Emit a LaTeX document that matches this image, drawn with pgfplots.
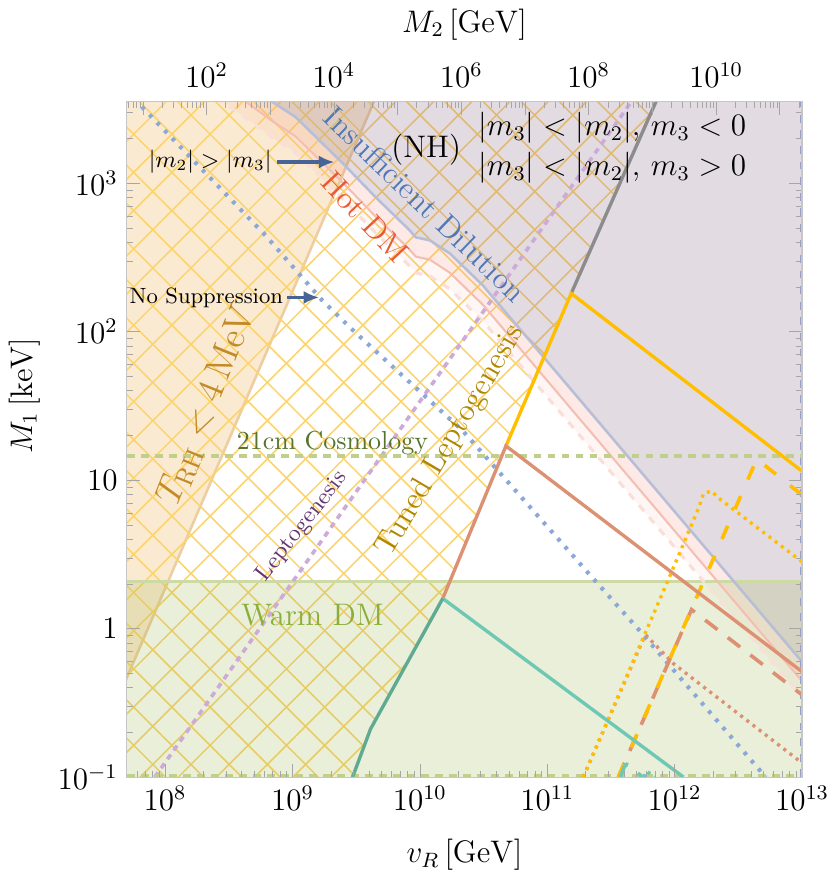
\documentclass[border=0pt]{standalone}
\usepackage{pgfplots}
\pgfplotsset{compat=1.18}
\usetikzlibrary{patterns.meta,arrows.meta}

\definecolor{orgfill}{RGB}{242,185,105}
\definecolor{orgline}{RGB}{238,205,160}
\definecolor{idfill}{RGB}{140,110,140}
\definecolor{idline}{RGB}{185,190,215}
\definecolor{hotfill}{RGB}{240,130,110}
\definecolor{hotline}{RGB}{245,190,178}
\definecolor{hotdash}{RGB}{250,222,216}
\definecolor{wdmfill}{RGB}{150,175,70}
\definecolor{wdmline}{RGB}{205,218,165}
\definecolor{cmline}{RGB}{192,208,140}
\definecolor{hatchcol}{RGB}{251,212,110}
\definecolor{ylw}{RGB}{255,190,0}
\definecolor{salmon}{RGB}{220,145,115}
\definecolor{tealA}{RGB}{95,170,145}
\definecolor{tealB}{RGB}{110,200,180}
\definecolor{nosup}{RGB}{140,168,215}
\definecolor{lepto}{RGB}{205,170,215}
\definecolor{edgeblue}{RGB}{150,160,200}
\definecolor{txtid}{RGB}{80,120,180}
\definecolor{txthot}{RGB}{232,90,50}
\definecolor{txttrh}{RGB}{195,138,40}
\definecolor{txtcm}{RGB}{85,115,45}
\definecolor{txtlep}{RGB}{100,55,110}
\definecolor{txttuned}{RGB}{175,135,0}
\definecolor{txtwdm}{RGB}{140,175,60}
\definecolor{arrcol}{RGB}{70,100,150}

\begin{document}
\begin{tikzpicture}
\begin{axis}[
  scale only axis,
  width=260pt, height=260pt,
  xmin=7.70, xmax=13, ymin=-1, ymax=3.547,
  axis on top,
  xtick={8,9,10,11,12,13},
  xticklabels={$10^{8}$,$10^{9}$,$10^{10}$,$10^{11}$,$10^{12}$,$10^{13}$},
  ytick={-1,0,1,2,3},
  yticklabels={$10^{-1}$,$1$,$10$,$10^{2}$,$10^{3}$},
  minor xtick={7.778,7.845,7.903,7.954,
    8.301,8.477,8.602,8.699,8.778,8.845,8.903,8.954,
    9.301,9.477,9.602,9.699,9.778,9.845,9.903,9.954,
    10.301,10.477,10.602,10.699,10.778,10.845,10.903,10.954,
    11.301,11.477,11.602,11.699,11.778,11.845,11.903,11.954,
    12.301,12.477,12.602,12.699,12.778,12.845,12.903,12.954},
  minor ytick={-0.699,-0.523,-0.398,-0.301,-0.222,-0.155,-0.097,-0.046,
    0.301,0.477,0.602,0.699,0.778,0.845,0.903,0.954,
    1.301,1.477,1.602,1.699,1.778,1.845,1.903,1.954,
    2.301,2.477,2.602,2.699,2.778,2.845,2.903,2.954,
    3.301,3.477},
  xtick pos=left, ytick pos=both,
  tick align=inside,
  major tick length=5pt, minor tick length=2.5pt,
  tick style={gray!70},
  axis line style={gray!45},
  tick label style={font=\large},
  label style={font=\large},
  xlabel={$v_R\,[\mathrm{GeV}]$},
  ylabel={$M_1\,[\mathrm{keV}]$},
  xlabel style={yshift=-4pt},
  every axis y label/.append style={at={(ticklabel cs:0.565)}},
]

% T_RH < 4 MeV region
\addplot[draw=none, fill=orgfill, fill opacity=0.3]
  coordinates {(7.6,-0.53) (9.66,3.59) (7.6,3.59)} -- cycle;
\addplot[orgline, line width=1pt] coordinates {(7.6,-0.53) (9.66,3.59)};

% tuned leptogenesis hatch
\addplot[draw=none, pattern={Lines[angle=45,distance=10.4pt,line width=0.6pt]},
  pattern color=hatchcol]
  coordinates {(7.6,-1.1) (7.6,3.6) (11.88,3.6) (11.188,2.257) (10.676,1.230)
  (10.180,0.203) (9.613,-0.676) (9.472,-1) (9.43,-1.1)} -- cycle;
\addplot[draw=none, pattern={Lines[angle=-45,distance=10.4pt,line width=0.6pt]},
  pattern color=hatchcol]
  coordinates {(7.6,-1.1) (7.6,3.6) (11.88,3.6) (11.188,2.257) (10.676,1.230)
  (10.180,0.203) (9.613,-0.676) (9.472,-1) (9.43,-1.1)} -- cycle;

% insufficient dilution region
\addplot[draw=none, fill=idfill, fill opacity=0.25]
  coordinates {(8.3,3.87) (8.60,3.70) (8.842,3.547) (9.023,3.446) (9.393,3.135)
  (9.653,2.905) (9.920,2.682) (9.968,2.635) (10.078,2.615) (10.235,2.527)
  (10.495,2.311) (11.228,1.569) (12.44,0.343) (13.0,-0.223) (13.1,-0.32)
  (13.1,3.9) (8.3,3.9)} -- cycle;

% hot DM band (outer and inner)
\addplot[draw=none, fill=hotfill, fill opacity=0.07]
  coordinates {(8.3,3.87) (8.60,3.70) (8.842,3.547) (9.023,3.446) (9.393,3.135)
  (9.653,2.905) (9.920,2.682) (9.968,2.635) (10.078,2.615) (10.235,2.527)
  (10.495,2.311) (11.228,1.569) (12.44,0.343) (13.0,-0.223) (13.1,-0.32)
  (13.1,-0.56) (13.0,-0.463) (12.44,0.103) (11.228,1.329) (10.495,2.071)
  (10.235,2.287) (10.078,2.375) (9.968,2.395) (9.920,2.442) (9.653,2.665)
  (9.393,2.895) (9.023,3.206) (8.842,3.307) (8.60,3.46) (8.3,3.63)} -- cycle;
\addplot[draw=none, fill=hotfill, fill opacity=0.10]
  coordinates {(8.3,3.87) (8.60,3.70) (8.842,3.547) (9.023,3.446) (9.393,3.135)
  (9.653,2.905) (9.920,2.682) (9.968,2.635) (10.078,2.615) (10.235,2.527)
  (10.495,2.311) (11.228,1.569) (12.44,0.343) (13.0,-0.223) (13.1,-0.32)
  (13.1,-0.45) (13.0,-0.353) (12.44,0.213) (11.228,1.439) (10.495,2.181)
  (10.235,2.397) (10.078,2.485) (9.968,2.505) (9.920,2.552) (9.653,2.775)
  (9.393,3.005) (9.023,3.316) (8.842,3.417) (8.60,3.57) (8.3,3.74)} -- cycle;

% warm DM
\addplot[draw=none, fill=wdmfill, fill opacity=0.2]
  coordinates {(7.6,-1.1) (13.1,-1.1) (13.1,0.318) (7.6,0.318)} -- cycle;
\addplot[wdmline, line width=1.2pt] coordinates {(7.6,0.318) (13.1,0.318)};

% boundary lines of the bands
\addplot[idline, line width=1pt] coordinates {(8.3,3.87) (8.60,3.70) (8.842,3.547)
  (9.023,3.446) (9.393,3.135) (9.653,2.905) (9.920,2.682) (9.968,2.635)
  (10.078,2.615) (10.235,2.527) (10.495,2.311) (11.228,1.569) (12.44,0.343)
  (13.0,-0.223) (13.1,-0.32)};
\addplot[hotline, line width=0.8pt] coordinates {(8.3,3.74) (8.60,3.57) (8.842,3.417)
  (9.023,3.316) (9.393,3.005) (9.653,2.775) (9.920,2.552) (9.968,2.505)
  (10.078,2.485) (10.235,2.397) (10.495,2.181) (11.228,1.439) (12.44,0.213)
  (13.0,-0.353) (13.1,-0.45)};
\addplot[hotdash, line width=1.2pt, dash pattern=on 3pt off 3pt] coordinates {(8.3,3.63)
  (8.60,3.46) (8.842,3.307) (9.023,3.206) (9.393,2.895) (9.653,2.665) (9.920,2.442)
  (9.968,2.395) (10.078,2.375) (10.235,2.287) (10.495,2.071) (11.228,1.329)
  (12.44,0.103) (13.0,-0.463) (13.1,-0.56)};

% leptogenesis (dashed purple)
\addplot[lepto, line width=1.4pt, dash pattern=on 2.2pt off 2pt]
  coordinates {(7.92,-1.0) (11.67,3.56)};

% no suppression (blue dotted)
\addplot[nosup, line width=1.6pt, dash pattern=on 1.4pt off 2.8pt]
  coordinates {(7.818,3.514) (8.787,2.649) (9.235,2.209) (9.495,1.993)
  (10.338,1.331) (11.346,0.351) (11.732,-0.020) (12.646,-0.932) (12.716,-1)};

% 21cm cosmology and edges
\addplot[cmline, line width=1.2pt, dash pattern=on 3pt off 2.4pt]
  coordinates {(7.70,1.162) (13,1.162)};
\addplot[cmline, line width=1.2pt, dash pattern=on 3pt off 2.4pt]
  coordinates {(7.70,-0.992) (13,-0.992)};
\addplot[edgeblue, line width=1.2pt, dash pattern=on 3pt off 3pt]
  coordinates {(12.993,-1) (12.993,3.547)};

% dotted yellow / salmon
\addplot[salmon, line width=1.3pt, dash pattern=on 1.2pt off 1.8pt]
  coordinates {(11.283,-1) (11.77,-0.04) (11.991,-0.236) (13,-0.905)};
\addplot[ylw, line width=1.3pt, dash pattern=on 1.2pt off 1.8pt]
  coordinates {(11.283,-1) (11.968,0.365) (12.188,0.811) (12.228,0.912)
  (12.291,0.926) (12.346,0.878) (13,0.45)};

% dashed salmon / yellow
\addplot[salmon, line width=1.4pt, dash pattern=on 6pt off 5pt]
  coordinates {(11.558,-1) (12.133,0.128) (13,-0.446)};
\addplot[ylw, line width=1.4pt, dash pattern=on 5.5pt off 7pt]
  coordinates {(11.558,-1) (12.645,1.142) (13,0.90)};

% teal fragments near the bottom
\addplot[tealB, line width=1.4pt, dash pattern=on 6pt off 5pt]
  coordinates {(11.575,-1) (11.605,-0.93) (11.625,-0.915) (11.75,-1)};
\addplot[tealB, line width=1.4pt, dash pattern=on 1.2pt off 1.8pt]
  coordinates {(11.76,-1) (11.78,-0.96) (11.84,-1)};

% solid boundary lines
\addplot[gray!90, line width=1.3pt] coordinates {(11.188,2.257) (11.88,3.60)};
\addplot[ylw, line width=1.3pt] coordinates {(10.676,1.230) (11.188,2.257) (13,1.06)};
\addplot[salmon, line width=1.3pt] coordinates {(10.180,0.203) (10.676,1.230) (13,-0.29)};
\addplot[tealB, line width=1.3pt] coordinates {(10.180,0.203) (12.07,-1)};
\addplot[tealA, line width=1.3pt] coordinates {(9.472,-1) (9.613,-0.676) (10.180,0.203)};

% labels
\node[font=\large] at (axis cs:10.05,3.223) {(NH)};
\node[font=\large] at (axis cs:11.51,3.372) {$|m_3|<|m_2|,\,m_3<0$};
\node[font=\large] at (axis cs:11.51,3.101) {$|m_3|<|m_2|,\,m_3>0$};
\node[font=\small, anchor=east, inner sep=1pt] at (axis cs:8.86,3.142) {$|m_2|>|m_3|$};
\draw[arrcol, line width=1.2pt, -{Latex[length=6pt,width=5pt]}]
  (axis cs:8.877,3.142) -- (axis cs:9.33,3.142);
\node[font=\fontsize{8.5pt}{10pt}\selectfont, anchor=east, inner sep=1pt]
  at (axis cs:8.95,2.23) {No Suppression};
\draw[arrcol, line width=1.2pt, -{Latex[length=6pt,width=5pt]}]
  (axis cs:8.96,2.23) -- (axis cs:9.21,2.23);
\node[font=\large, text=txtid, rotate=-43.9, inner sep=0pt] at (axis cs:10.04,2.86) {Insufficient Dilution};
\node[font=\large, text=txthot, rotate=-47, inner sep=0pt] at (axis cs:9.57,2.77) {Hot DM};
\node[font=\Large, text=txttrh, rotate=68, inner sep=0pt] at (axis cs:8.33,1.5) {$T_{\mathrm{RH}}<4\,$MeV};
\node[font=\normalsize, text=txtcm, inner sep=0pt] at (axis cs:9.314,1.25) {21cm Cosmology};
\node[font=\small, text=txtlep, rotate=52, inner sep=0pt] at (axis cs:9.078,0.689) {Leptogenesis};
\node[font=\large, text=txttuned, rotate=59.5, inner sep=0pt]
  at (axis cs:10.243,1.264) {Tuned Leptogenesis};
\node[font=\large, text=txtwdm, inner sep=0pt] at (axis cs:9.157,0.088) {Warm DM};
\end{axis}

\begin{axis}[
  scale only axis,
  width=260pt, height=260pt,
  xmin=0.75, xmax=11.35, ymin=0, ymax=1,
  axis x line*=top, axis y line=none,
  tick align=inside,
  xtick={2,4,6,8,10},
  xticklabels={$10^{2}$,$10^{4}$,$10^{6}$,$10^{8}$,$10^{10}$},
  extra x ticks={1,3,5,7,9,11},
  extra x tick labels={},
  minor xtick={0.778,0.845,0.903,0.954,
    1.301,1.477,1.602,1.699,1.778,1.845,1.903,1.954,
    2.301,2.477,2.602,2.699,2.778,2.845,2.903,2.954,
    3.301,3.477,3.602,3.699,3.778,3.845,3.903,3.954,
    4.301,4.477,4.602,4.699,4.778,4.845,4.903,4.954,
    5.301,5.477,5.602,5.699,5.778,5.845,5.903,5.954,
    6.301,6.477,6.602,6.699,6.778,6.845,6.903,6.954,
    7.301,7.477,7.602,7.699,7.778,7.845,7.903,7.954,
    8.301,8.477,8.602,8.699,8.778,8.845,8.903,8.954,
    9.301,9.477,9.602,9.699,9.778,9.845,9.903,9.954,
    10.301,10.477,10.602,10.699,10.778,10.845,10.903,10.954,
    11.301},
  major tick length=5pt, minor tick length=2.5pt,
  tick style={gray!70},
  axis line style={gray!45},
  tick label style={font=\large},
  xticklabel style={yshift=2pt},
  label style={font=\large},
  xlabel={$M_2\,[\mathrm{GeV}]$},
  xlabel style={yshift=2pt},
]
\end{axis}
\end{tikzpicture}
\end{document}
